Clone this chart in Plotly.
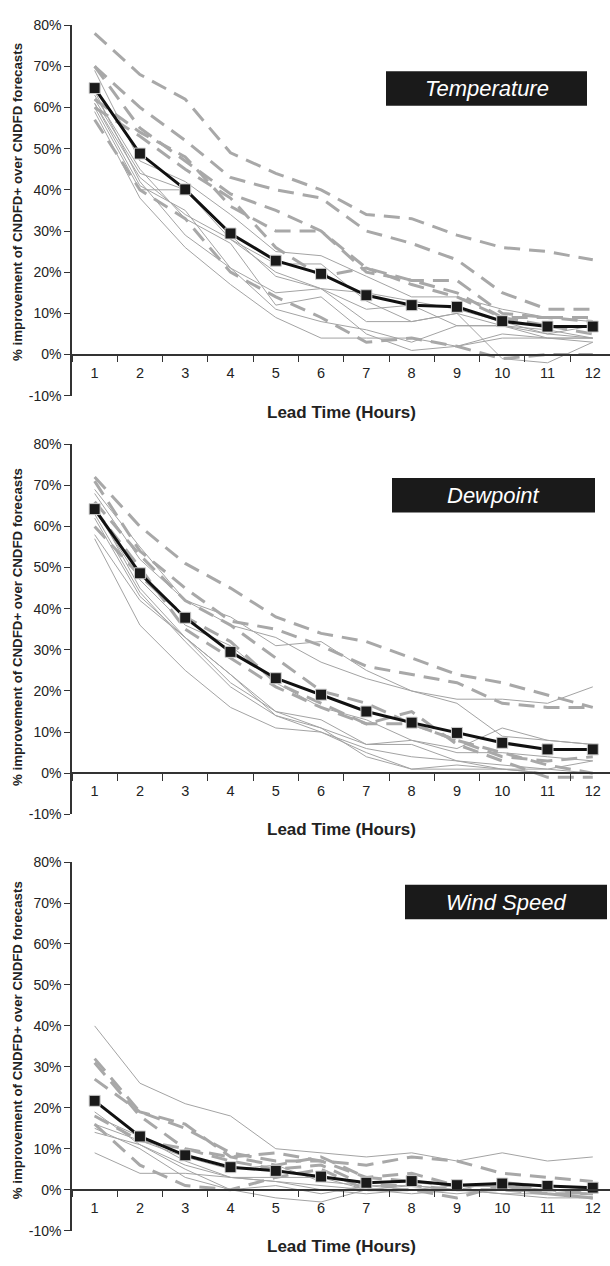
import plotly.graph_objects as go

lead_hours = ["1", "2", "3", "4", "5", "6", "7", "8", "9", "10", "11", "12"]
y_tick_vals = [-10, 0, 10, 20, 30, 40, 50, 60, 70, 80]
y_tick_text = ["-10%", "0%", "10%", "20%", "30%", "40%", "50%", "60%", "70%", "80%"]
panel_titles = ["Temperature", "Dewpoint", "Wind Speed"]

# ---- Temperature ----
temp_mean = [64.7, 48.8, 40.1, 29.4, 22.8, 19.6, 14.4, 12.0, 11.6, 8.1, 6.8, 6.8]
temp_dashed = [
    [78, 68, 62, 49, 44, 40, 34, 33, 29, 26, 25, 23],
    [70, 60, 52, 43, 40, 38, 30, 27, 23, 15, 11, 11],
    [70, 55, 47, 39, 35, 30, 21, 18, 15, 9, 9, 8],
    [62, 54, 48, 36, 30, 30, 20, 18, 18, 10, 9, 9],
    [60, 53, 45, 38, 26, 19, 21, 17, 14, 9, 7, 5],
    [57, 40, 33, 20, 14, 9, 3, 4, 2, -1, 0, 0],
]
temp_solid = [
    [69, 47, 42, 34, 25, 24, 19, 14, 14, 11, 9, 8],
    [62, 44, 40, 28, 22, 22, 13, 8, 10, 7, 6, 4],
    [61, 43, 34, 28, 20, 16, 15, 13, 11, 8, 5, 4],
    [60, 40, 40, 29, 19, 16, 11, 12, 7, 7, 4, 4],
    [59, 38, 26, 17, 9, 4, 4, 4, 2, 4, 4, 3],
    [64, 42, 29, 21, 15, 16, 8, 8, 10, -1, -2, 3],
    [63, 45, 33, 27, 12, 14, 5, 1, 2, 5, 4, 4],
    [61, 41, 35, 21, 11, 8, 6, 3, 7, 7, 5, 7],
]

# ---- Dewpoint ----
dew_mean = [64.2, 48.6, 37.8, 29.5, 23.1, 19.1, 15.0, 12.3, 9.8, 7.4, 5.8, 5.8]
dew_dashed = [
    [72, 60, 51, 45, 38, 34, 32, 28, 24, 22, 19, 16],
    [71, 54, 45, 37, 35, 31, 26, 24, 22, 17, 16, 16],
    [66, 53, 42, 36, 28, 20, 17, 12, 8, 4, 3, 4],
    [60, 48, 38, 32, 22, 17, 12, 15, 7, 3, -1, -1],
    [64, 50, 35, 28, 21, 16, 12, 12, 8, 5, 2, 0],
]
dew_solid = [
    [69, 55, 42, 38, 31, 32, 25, 20, 18, 18, 17, 21],
    [68, 52, 42, 36, 33, 27, 23, 20, 17, 9, 8, 7],
    [64, 47, 36, 31, 22, 16, 13, 8, 6, 11, 8, 7],
    [58, 42, 33, 22, 15, 13, 7, 7, 3, 2, 1, 3],
    [57, 36, 25, 16, 11, 10, 6, 4, 3, 1, 0, 0],
    [63, 44, 32, 21, 14, 10, 5, 1, 2, 1, 1, 0],
    [65, 45, 33, 24, 15, 11, 4, 1, 1, 1, 0, 0],
    [62, 43, 33, 24, 14, 11, 7, 8, 5, 5, 4, 3],
]

# ---- Wind Speed ----
wind_mean = [21.7, 13.0, 8.4, 5.5, 4.6, 3.2, 1.7, 2.1, 1.1, 1.5, 0.9, 0.5]
wind_dashed = [
    [32, 19, 15, 9, 7, 7, 3, 4, 1, 1, -1, -2],
    [31, 18, 10, 8, 9, 7, 6, 8, 7, 4, 3, 2],
    [27, 19, 16, 8, 6, 8, 3, 2, 1, 1, 0, -1],
    [16, 6, 1, 0, 3, 5, 0, 0, -2, 1, -1, -2],
    [18, 12, 10, 7, 5, 6, 1, 1, 0, 0, -1, -1],
]
wind_solid = [
    [40, 26, 21, 18, 10, 9, 8, 9, 7, 9, 7, 8],
    [9, 4, 4, 3, 3, 3, 0, 1, 0, 0, -1, -1],
    [19, 11, 6, 3, 2, 0, -1, 0, 0, -1, -1, -1],
    [16, 12, 8, 5, 6, 2, 1, 1, 0, -1, -2, -2],
    [14, 11, 5, 0, -2, -3, 0, 0, 1, 1, 0, -1],
    [18, 13, 7, 3, 2, 1, 0, -1, 0, 2, 1, 0],
    [15, 10, 3, 0, 1, -1, 1, 0, -1, 0, 0, 0],
]

panels = [
    (temp_mean, temp_dashed, temp_solid),
    (dew_mean, dew_dashed, dew_solid),
    (wind_mean, wind_dashed, wind_solid),
]

W, H = 610, 1266
# pixel positions (top of 80%, bottom of -10%) per panel
panel_px = [(17.3, 392.7), (441.7, 816.7), (865.0, 1238.3)]
box_px = [(386, 587, 64, 99), (392, 595, 476, 511), (405, 607, 888, 923)]
ytitle_px = [197, 627.5, 1046]
xtitle_px = [410, 832, 1254]
x_left = 72 / W

fig = go.Figure()
layout = dict(
    width=W, height=H,
    margin=dict(l=0, r=0, t=0, b=0),
    paper_bgcolor="white", plot_bgcolor="white",
    showlegend=False,
    font=dict(family="Liberation Sans, Arial, sans-serif", color="#222"),
    shapes=[], annotations=[],
)

for i, (mean, dashed, solid) in enumerate(panels):
    n = "" if i == 0 else str(i + 1)
    xr, yr = "x" + n, "y" + n
    top, bot = panel_px[i]
    d0, d1 = 1 - bot / H, 1 - top / H
    zero_pos = d0 + (d1 - d0) * 10 / 90

    for s in solid:
        fig.add_trace(go.Scatter(x=lead_hours, y=s, mode="lines", xaxis=xr, yaxis=yr,
                                 line=dict(color="#a3a3a3", width=1)))
    for s in dashed:
        fig.add_trace(go.Scatter(x=lead_hours, y=s, mode="lines", xaxis=xr, yaxis=yr,
                                 line=dict(color="#a8a8a8", width=3, dash="16px,9px")))
    fig.add_trace(go.Scatter(x=lead_hours, y=mean, mode="lines+markers", xaxis=xr, yaxis=yr,
                             line=dict(color="#111", width=3),
                             marker=dict(symbol="square", size=11, color="#1a1a1a",
                                         line=dict(color="#d0d0d0", width=1))))

    layout["xaxis" + n] = dict(
        type="category", domain=[x_left, 1], anchor="free", position=zero_pos,
        range=[-0.5, 11.38], tickson="boundaries", ticks="outside", ticklen=7,
        tickcolor="#333", showline=True, linecolor="#333", linewidth=1.5,
        showgrid=False, zeroline=False, tickfont=dict(size=14.5, color="#222"),
        ticklabelstandoff=5,
    )
    layout["yaxis" + n] = dict(
        domain=[d0, d1], anchor=xr, range=[-10, 80],
        tickmode="array", tickvals=y_tick_vals, ticktext=y_tick_text,
        ticks="outside", ticklen=6, tickcolor="#333", showline=True,
        linecolor="#333", linewidth=1.5, showgrid=False, zeroline=False,
        tickfont=dict(size=14, color="#222"),
    )

    bx0, bx1, by0, by1 = box_px[i]
    layout["shapes"].append(dict(type="rect", xref="paper", yref="paper",
                                 x0=bx0 / W, x1=bx1 / W, y0=1 - by1 / H, y1=1 - by0 / H,
                                 fillcolor="#1a1a1a", line=dict(width=0), layer="above"))
    layout["annotations"].append(dict(
        text="<i>" + panel_titles[i] + "</i>", xref="paper", yref="paper",
        x=(bx0 + bx1) / 2 / W, y=1 - (by0 + by1) / 2 / H, showarrow=False,
        xanchor="center", yanchor="middle", font=dict(size=22, color="white")))
    layout["annotations"].append(dict(
        text="<b>Lead Time (Hours)</b>", xref="paper", yref="paper",
        x=(72 + 610) / 2 / W, y=1 - xtitle_px[i] / H, showarrow=False,
        xanchor="center", yanchor="middle", font=dict(size=17, color="#222")))
    layout["annotations"].append(dict(
        text="<b>% improvement of CNDFD+ over CNDFD forecasts</b>", xref="paper", yref="paper",
        x=17.5 / W, y=1 - ytitle_px[i] / H, showarrow=False, textangle=-90,
        xanchor="center", yanchor="middle", font=dict(size=13.3, color="#222")))

fig.update_layout(**layout)
fig.write_html("out.html",
               config={"displayModeBar": False},
               post_script="document.body.style.margin='0';document.body.style.overflow='hidden';")
